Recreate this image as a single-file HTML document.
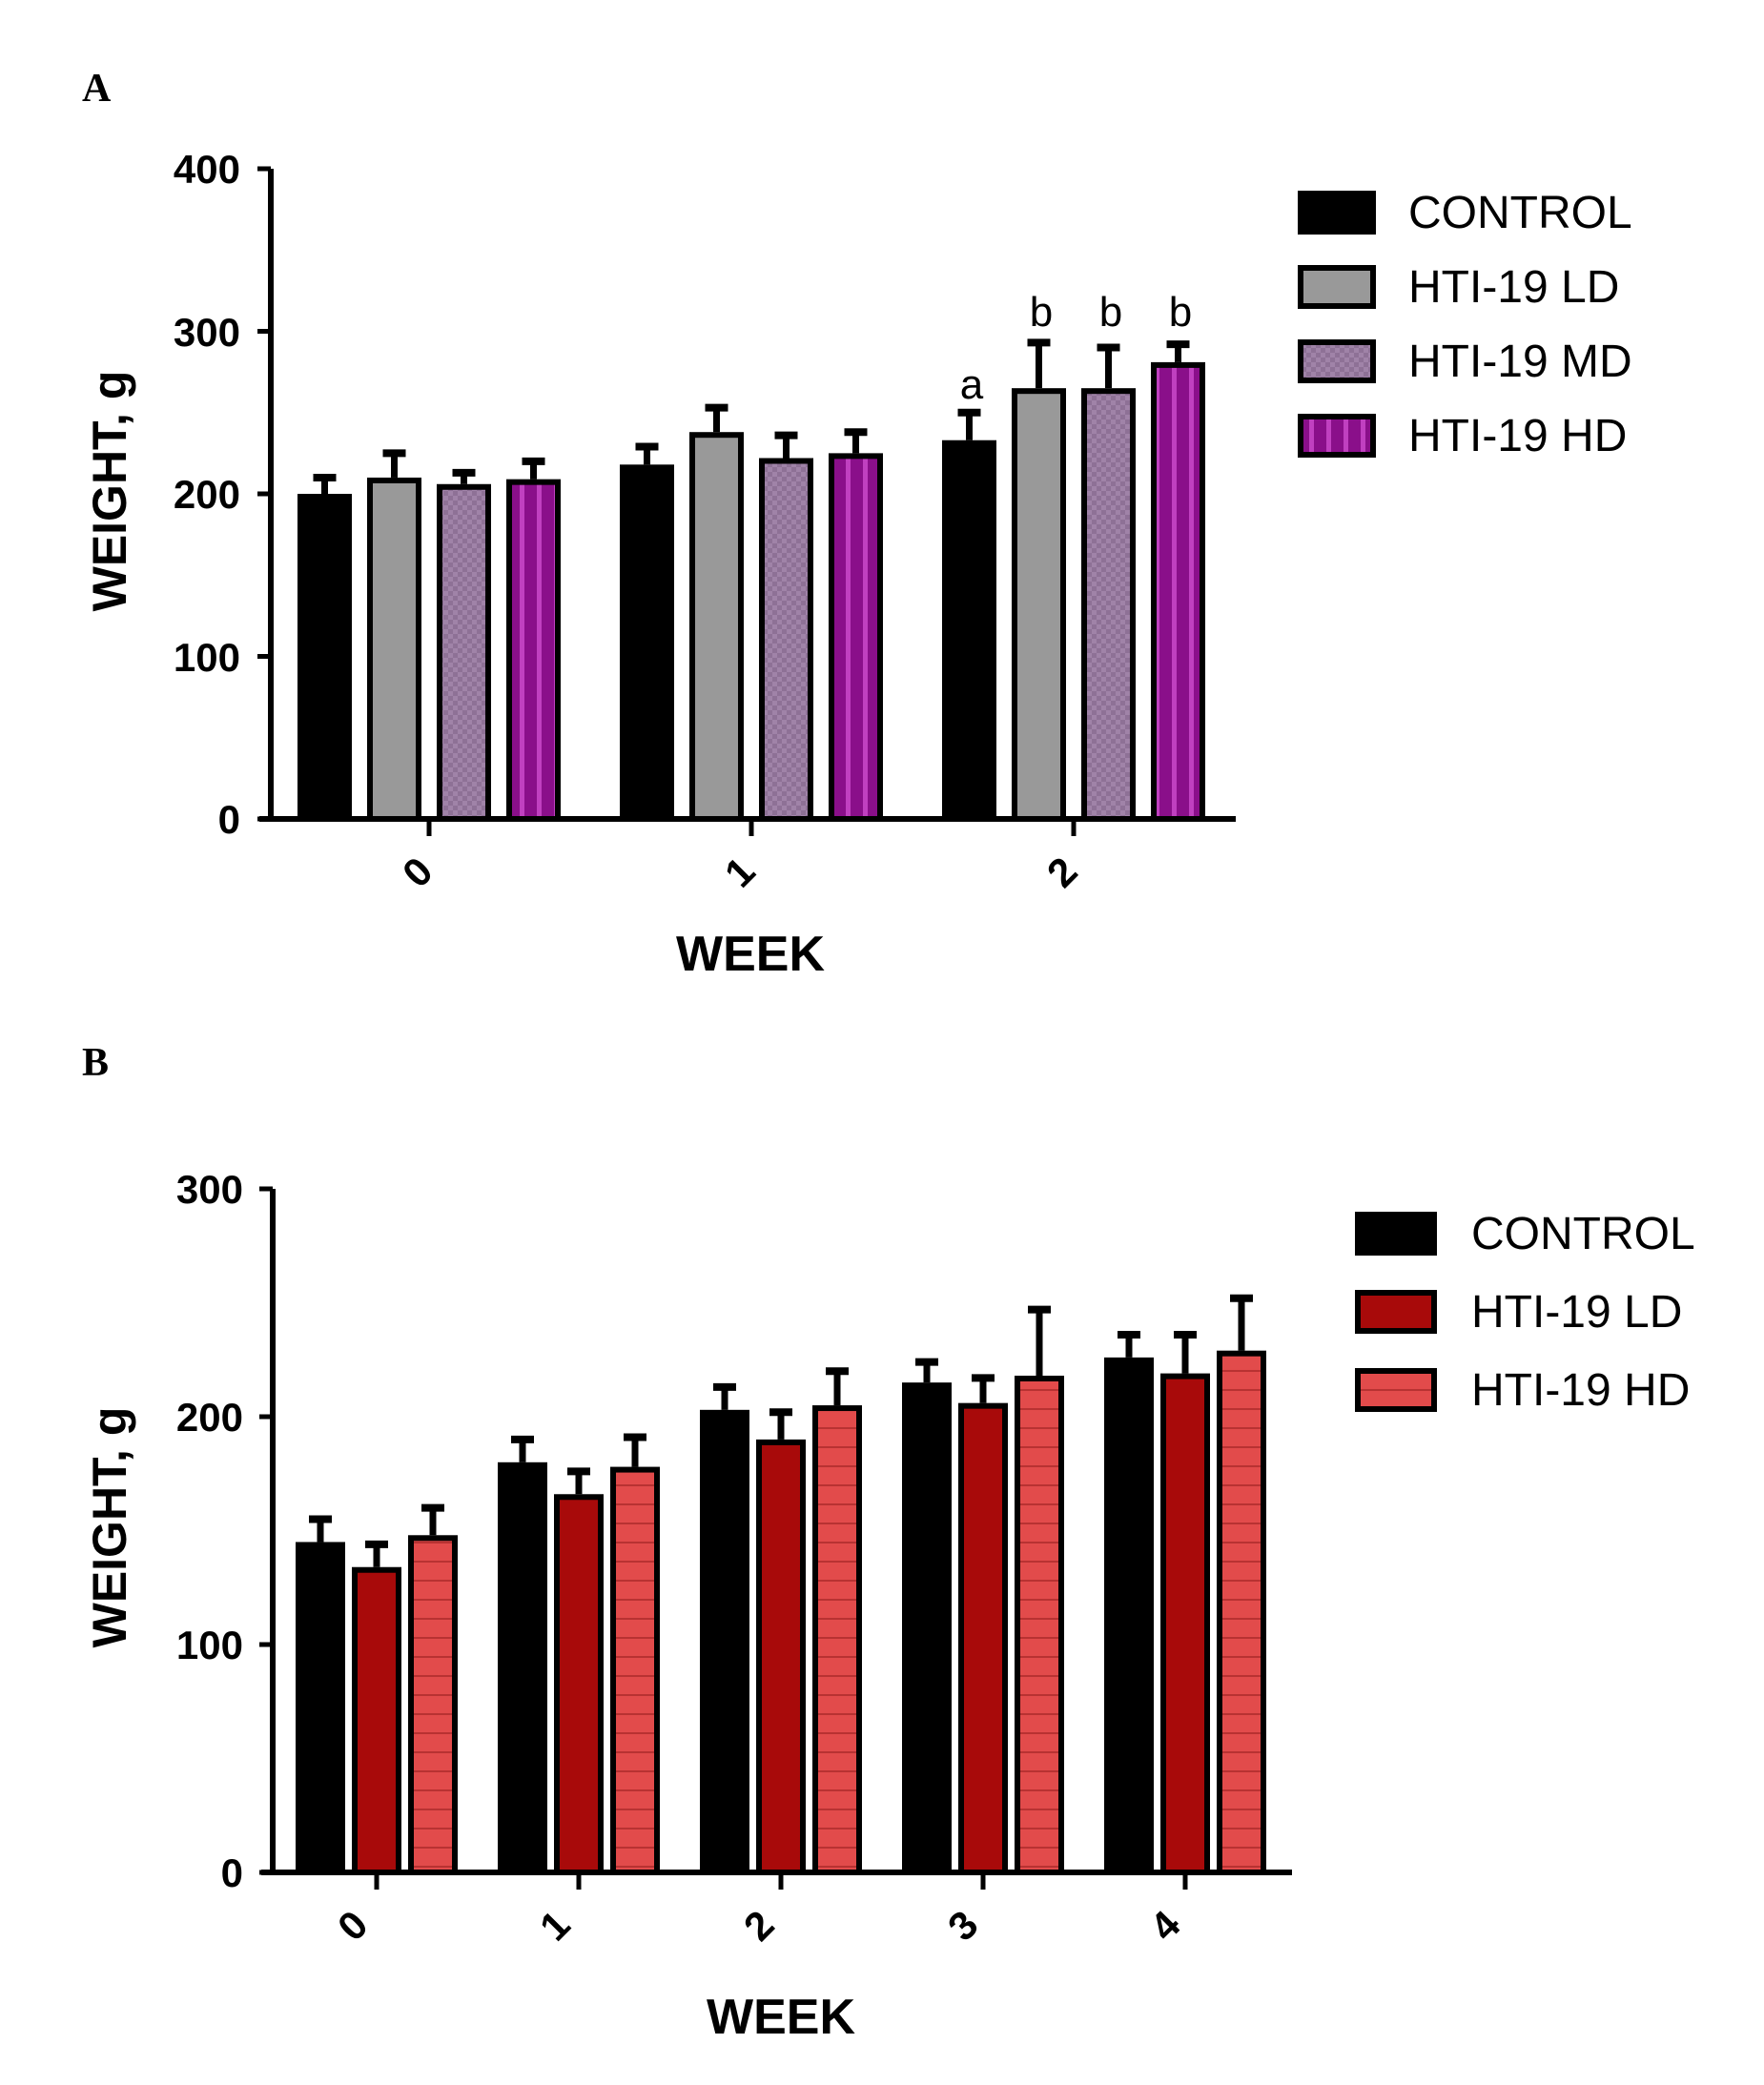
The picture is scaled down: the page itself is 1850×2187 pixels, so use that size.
<!DOCTYPE html>
<html><head><meta charset="utf-8"><style>
html,body{margin:0;padding:0;background:#fff;}
svg{display:block;}
text{font-family:"Liberation Sans",sans-serif;}
</style></head><body>
<svg id="s" width="1850" height="2187" viewBox="0 0 1850 2187" xmlns="http://www.w3.org/2000/svg">
<defs>
<pattern id="chk" width="10" height="10" patternUnits="userSpaceOnUse"><rect width="10" height="10" fill="#a083a8"/><rect width="5" height="5" fill="#8e7196"/><rect x="5" y="5" width="5" height="5" fill="#8e7196"/></pattern>
<pattern id="vst" width="18" height="10" patternUnits="userSpaceOnUse"><rect width="18" height="10" fill="#8a0f8a"/><rect x="5" width="5" height="10" fill="#c040c0"/></pattern>
<pattern id="hst" width="10" height="20" patternUnits="userSpaceOnUse"><rect width="10" height="20" fill="#e24b4b"/><rect y="17" width="10" height="2" fill="#b83232"/></pattern>
</defs>
<!-- Panel A -->
<text x="86" y="106" style="font-family:'Liberation Serif',serif" font-weight="bold" font-size="42">A</text>
<g font-size="42" font-weight="bold" text-anchor="end">
<text x="252" y="192">400</text><text x="252" y="363">300</text><text x="252" y="533">200</text><text x="252" y="704">100</text><text x="252" y="874">0</text>
</g>
<text transform="translate(132,515) rotate(-90)" font-size="50" font-weight="bold" text-anchor="middle">WEIGHT, g</text>
<g font-size="42" font-weight="bold" text-anchor="middle">
<text transform="translate(448,925) rotate(-45)">0</text>
<text transform="translate(786,925) rotate(-45)">1</text>
<text transform="translate(1124,925) rotate(-45)">2</text>
</g>
<text x="787" y="1018" font-size="52" font-weight="bold" text-anchor="middle">WEEK</text>
<g font-size="44" text-anchor="middle">
<text x="1019" y="418">a</text><text x="1092" y="342">b</text><text x="1165" y="342">b</text><text x="1238" y="342">b</text>
</g>
<g font-size="48">
<rect x="1364" y="203" width="76" height="40" fill="#000" stroke="#000" stroke-width="6"/><text x="1477" y="239">CONTROL</text>
<rect x="1364" y="281" width="76" height="40" fill="#999" stroke="#000" stroke-width="6"/><text x="1477" y="317">HTI-19 LD</text>
<rect x="1364" y="359" width="76" height="40" fill="url(#chk)" stroke="#000" stroke-width="6"/><text x="1477" y="395">HTI-19 MD</text>
<rect x="1364" y="437" width="76" height="40" fill="url(#vst)" stroke="#000" stroke-width="6"/><text x="1477" y="473">HTI-19 HD</text>
</g>
<!-- Panel B -->
<text x="86" y="1128" style="font-family:'Liberation Serif',serif" font-weight="bold" font-size="42">B</text>
<g font-size="42" font-weight="bold" text-anchor="end">
<text x="255" y="1262">300</text><text x="255" y="1501">200</text><text x="255" y="1740">100</text><text x="255" y="1979">0</text>
</g>
<text transform="translate(132,1602) rotate(-90)" font-size="50" font-weight="bold" text-anchor="middle">WEIGHT, g</text>
<g font-size="42" font-weight="bold" text-anchor="middle">
<text transform="translate(380,2030) rotate(-45)">0</text>
<text transform="translate(592,2030) rotate(-45)">1</text>
<text transform="translate(806,2030) rotate(-45)">2</text>
<text transform="translate(1020,2030) rotate(-45)">3</text>
<text transform="translate(1232,2030) rotate(-45)">4</text>
</g>
<text x="819" y="2133" font-size="52" font-weight="bold" text-anchor="middle">WEEK</text>
<g font-size="48">
<rect x="1424" y="1274" width="80" height="40" fill="#000" stroke="#000" stroke-width="6"/><text x="1543" y="1310">CONTROL</text>
<rect x="1424" y="1356" width="80" height="40" fill="#a80a0a" stroke="#000" stroke-width="6"/><text x="1543" y="1392">HTI-19 LD</text>
<rect x="1424" y="1438" width="80" height="40" fill="url(#hst)" stroke="#000" stroke-width="6"/><text x="1543" y="1474">HTI-19 HD</text>
</g>
<g id="bars"></g>
</svg>
<script>
var NS="http://www.w3.org/2000/svg",g=document.getElementById('bars');
function el(n,a){var e=document.createElementNS(NS,n);for(var k in a)e.setAttribute(k,a[k]);g.appendChild(e);return e;}
function panel(o){
 var sc=(o.y0-o.ytop)/o.ymax;
 o.data.forEach(function(grp,gi){
  grp.forEach(function(d,bi){
   var x=o.x0+gi*o.gs+bi*o.bs, yv=o.y0-d[0]*sc, ye=o.y0-d[1]*sc, cx=x+o.bw/2;
   el('line',{x1:cx,y1:ye,x2:cx,y2:yv,stroke:'#000','stroke-width':7});
   el('line',{x1:cx-12,y1:ye,x2:cx+12,y2:ye,stroke:'#000','stroke-width':8});
   el('rect',{x:x+3,y:yv+3,width:o.bw-6,height:o.y0-yv-3,fill:o.fills[bi],stroke:'#000','stroke-width':6});
  });
 });
 el('line',{x1:o.ax,y1:o.ytop,x2:o.ax,y2:o.y0+2,stroke:'#000','stroke-width':6});
 el('line',{x1:o.ax-12,y1:o.y0,x2:o.xend,y2:o.y0,stroke:'#000','stroke-width':6});
 for(var v=0;v<=o.ymax;v+=100){var y=o.y0-v*sc;el('line',{x1:o.ax-14,y1:y,x2:o.ax,y2:y,stroke:'#000','stroke-width':5});}
 for(var i=0;i<o.data.length;i++){var n=o.data[0].length;var cx=o.x0+i*o.gs+((n-1)*o.bs+o.bw)/2;el('line',{x1:cx,y1:o.y0,x2:cx,y2:o.y0+18,stroke:'#000','stroke-width':5});}
}
panel({ax:284,ytop:177,y0:859,ymax:400,xend:1296,x0:312,gs:338,bs:73,bw:57,
 fills:['#000','#999','url(#chk)','url(#vst)'],
 data:[[[200,210],[210,225],[206,213],[209,220]],[[218,229],[238,253],[222,236],[225,238]],[[233,250],[265,293],[265,290],[281,292]]]});
panel({ax:286,ytop:1247,y0:1964,ymax:300,xend:1355,x0:310,gs:212,bs:59,bw:52,
 fills:['#000','#a80a0a','url(#hst)'],
 data:[[[145,155],[134,144],[148,160]],[[180,190],[166,176],[178,191]],[[203,213],[190,202],[205,220]],[[215,224],[206,217],[218,247]],[[226,236],[219,236],[229,252]]]});
</script>
</body></html>
